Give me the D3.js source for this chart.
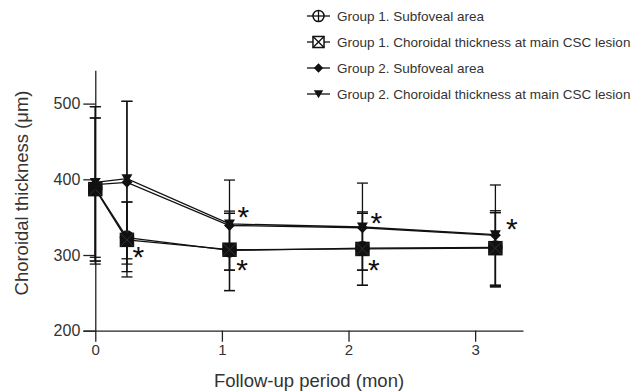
<!DOCTYPE html>
<html><head><meta charset="utf-8">
<script src="https://cdn.jsdelivr.net/npm/d3@7"></script>
<style>body{margin:0;background:#fff}svg{display:block;font-family:"Liberation Sans",Arial,sans-serif}</style>
</head><body><svg id="c" width="632" height="392"></svg>
<script>
// ---- data ----
const months = [0, 0.25, 1.06, 2.11, 3.16];
const seriesNames = [
  "Group 1. Subfoveal area",
  "Group 1. Choroidal thickness at main CSC lesion",
  "Group 2. Subfoveal area",
  "Group 2. Choroidal thickness at main CSC lesion"
];
const g1Sub    = [388, 323, 306, 309, 310];
const g1Lesion = [387, 320, 307, 308, 309];
const g2Sub    = [393, 396, 339, 336, 326];
const g2Lesion = [396, 401, 341, 337, 327];
const g1SubHi    = [481, 370, 355, 355, 356];
const g1SubLo    = [297, 278, 253, 260, 258];
const g1LesionHi = [481, 370, 355, 355, 356];
const g1LesionLo = [292, 271, 253, 260, 260];
const g2SubHi    = [496, 503, 358, 357, 358.5];
const g2SubLo    = [292, 288, 280, 280, 258];
const g2LesionHi = [496, 503, 399, 395, 392.5];
const g2LesionLo = [288, 295, 280, 280, 260];
const yTicks = [200, 300, 400, 500];
const xTicks = [0, 1, 2, 3];
const starX = [0.34, 1.17, 1.16, 2.22, 2.2, 3.29];
const starY = [306, 359, 290, 351, 289, 344];

// ---- layout ----
const svg = d3.select("#c");
const x = d3.scaleLinear().domain([-0.097, 3.378]).range([83, 523]);
const y = d3.scaleLinear().domain([200, 544]).range([330.7, 70.3]);

const series = [
  {name: seriesNames[0], v: g1Sub, hi: g1SubHi, lo: g1SubLo, sym: "circle"},
  {name: seriesNames[1], v: g1Lesion, hi: g1LesionHi, lo: g1LesionLo, sym: "square"},
  {name: seriesNames[2], v: g2Sub, hi: g2SubHi, lo: g2SubLo, sym: "diamond"},
  {name: seriesNames[3], v: g2Lesion, hi: g2LesionHi, lo: g2LesionLo, sym: "tri"}
];

// axes
const xAxis = svg.append("g").attr("transform", `translate(0,${y(200)})`)
  .call(d3.axisBottom(x).tickValues(xTicks).tickSize(11).tickSizeOuter(0).tickPadding(3).tickFormat(d3.format("d")));
const yAxis = svg.append("g").attr("transform", `translate(${x(0)},0)`)
  .call(d3.axisLeft(y).tickValues(yTicks).tickSize(12).tickSizeOuter(0).tickPadding(3));
[xAxis, yAxis].forEach(a => {
  a.selectAll("path,line").attr("stroke", "#222").attr("stroke-width", 1.3);
  a.selectAll("text").attr("fill", "#333").style("font-family", "'Liberation Sans',Arial,sans-serif");
});
xAxis.selectAll("text").style("font-size", "15px");
yAxis.selectAll("text").style("font-size", "16px");

svg.append("text").attr("x", 309).attr("y", 387).attr("text-anchor", "middle")
  .style("font-size", "18.5px").attr("fill", "#333").text("Follow-up period (mon)");
svg.append("text").attr("transform", "translate(28,193) rotate(-90)").attr("text-anchor", "middle")
  .style("font-size", "18.5px").attr("fill", "#333").text("Choroidal thickness (μm)");

// error bars
const cap = 5.5;
series.forEach(s => {
  const g = svg.append("g").attr("stroke", "#111").attr("stroke-width", 1.3);
  months.forEach((m, i) => {
    const cx = x(m);
    g.append("line").attr("x1", cx).attr("x2", cx).attr("y1", y(s.lo[i])).attr("y2", y(s.hi[i]));
    g.append("line").attr("x1", cx - cap).attr("x2", cx + cap).attr("y1", y(s.hi[i])).attr("y2", y(s.hi[i]));
    g.append("line").attr("x1", cx - cap).attr("x2", cx + cap).attr("y1", y(s.lo[i])).attr("y2", y(s.lo[i]));
  });
});

// lines
const line = d3.line().x((d, i) => x(months[i])).y(d => y(d));
series.forEach(s => {
  svg.append("path").attr("d", line(s.v)).attr("fill", "none").attr("stroke", "#111").attr("stroke-width", 1.3);
});

function drawSym(g, sym, cx, cy, big) {
  const k = big ? 1 : 0.85;
  if (sym === "circle") {
    g.append("circle").attr("cx", cx).attr("cy", cy).attr("r", 6.5 * k).attr("fill", big ? "#111" : "#fff").attr("stroke", "#111").attr("stroke-width", 1.5);
    const r = 6.5 * k;
    g.append("line").attr("x1", cx - r).attr("x2", cx + r).attr("y1", cy).attr("y2", cy).attr("stroke", big ? "#555" : "#111").attr("stroke-width", big ? 0.6 : 1.3);
    g.append("line").attr("x1", cx).attr("x2", cx).attr("y1", cy - r).attr("y2", cy + r).attr("stroke", big ? "#555" : "#111").attr("stroke-width", big ? 0.6 : 1.3);
  } else if (sym === "square") {
    const h = 6.5 * k;
    g.append("rect").attr("x", cx - h).attr("y", cy - h).attr("width", 2 * h).attr("height", 2 * h).attr("fill", big ? "#111" : "#fff").attr("stroke", "#111").attr("stroke-width", 1.5);
    g.append("path").attr("d", `M${cx - h},${cy - h}L${cx + h},${cy + h}M${cx + h},${cy - h}L${cx - h},${cy + h}`).attr("stroke", big ? "#444" : "#111").attr("stroke-width", big ? 0.6 : 1.3);
  } else if (sym === "diamond") {
    const h = 5.5 * k;
    g.append("path").attr("d", `M${cx},${cy - h}L${cx + h},${cy}L${cx},${cy + h}L${cx - h},${cy}Z`).attr("fill", "#111");
  } else {
    const h = 5.5 * k;
    g.append("path").attr("d", `M${cx - h},${cy - h * 0.8}L${cx + h},${cy - h * 0.8}L${cx},${cy + h * 0.9}Z`).attr("fill", "#111");
  }
}

// markers
series.forEach(s => {
  const g = svg.append("g");
  s.v.forEach((v, i) => drawSym(g, s.sym, x(months[i]), y(v), true));
});

// significance asterisks
starX.forEach((sx, i) => {
  svg.append("text").attr("x", x(sx)).attr("y", y(starY[i]) + 17).attr("text-anchor", "middle")
    .style("font-size", "30px").attr("fill", "#111").text("*");
});

// legend
const legY = [16, 42, 68, 94];
series.forEach((s, i) => {
  const g = svg.append("g");
  g.append("line").attr("x1", 307).attr("x2", 330).attr("y1", legY[i]).attr("y2", legY[i]).attr("stroke", "#111").attr("stroke-width", 1.3);
  drawSym(g, s.sym, 318.5, legY[i], false);
  g.append("text").attr("x", 337).attr("y", legY[i] + 5).style("font-size", "13.5px").attr("fill", "#333").text(s.name);
});
</script></body></html>
